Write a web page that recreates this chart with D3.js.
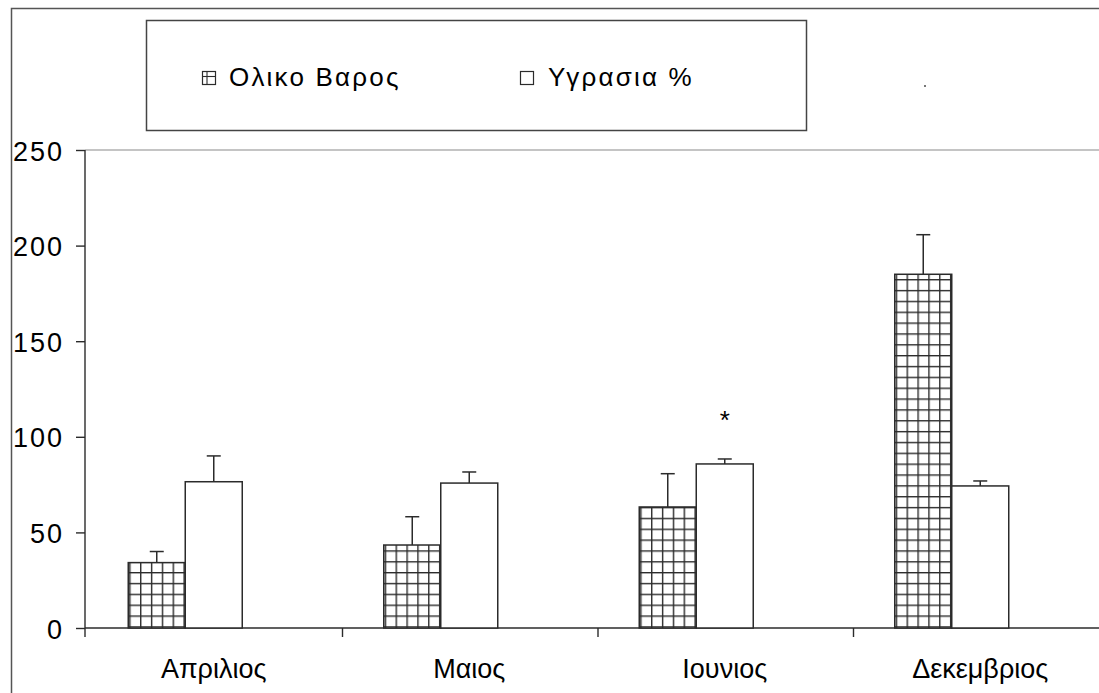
<!DOCTYPE html>
<html>
<head>
<meta charset="utf-8">
<script src="https://cdn.jsdelivr.net/npm/d3@7"></script>
<style>
  html, body { margin: 0; padding: 0; background: #fff; }
  svg { display: block; font-family: "Liberation Sans", Arial, sans-serif; }
</style>
</head>
<body>
<svg id="chart" width="1099" height="693"></svg>
<script>
// Monthly measurements: total weight and moisture %
const months = ["Απριλιος", "Μαιος", "Ιουνιος", "Δεκεμβριος"];
const seriesNames = ["Ολικο Βαρος", "Υγρασια %"];
const totalWeight = [34.2, 43.4, 63.3, 185.0];
const totalWeightErr = [5.8, 14.8, 17.4, 20.7];
const moisture = [76.5, 75.8, 85.8, 74.3];
const moistureErr = [13.5, 5.8, 2.6, 2.6];
const yTicks = [0, 50, 100, 150, 200, 250];
// significance marks: month index and series index
const significance = [{ month: 2, series: 1, mark: "*" }];

const svg = d3.select("#chart");
const ink = "#2b2b2b";

// frame around the whole chart
svg.append("path")
  .attr("d", "M11.5,694 L11.5,8.5 L1100,8.5")
  .attr("fill", "none").attr("stroke", "#555").attr("stroke-width", 1.5);

// grid hatch for the total-weight bars
const defs = svg.append("defs");
const pat = defs.append("pattern")
  .attr("id", "grid")
  .attr("patternUnits", "userSpaceOnUse")
  .attr("x", 130).attr("y", 572)
  .attr("width", 10.85).attr("height", 10.85);
pat.append("rect").attr("width", 10.85).attr("height", 10.85).attr("fill", "#fff");
pat.append("line").attr("x1", 0.7).attr("x2", 0.7).attr("y1", 0).attr("y2", 10.85)
  .attr("stroke", ink).attr("stroke-width", 1.4);
pat.append("line").attr("x1", 0).attr("x2", 10.85).attr("y1", 0.7).attr("y2", 0.7)
  .attr("stroke", ink).attr("stroke-width", 1.4);

// scales
const plotLeft = 85, plotTop = 150, plotBottom = 628;
const x0 = d3.scaleBand().domain(months).range([plotLeft + 1, plotLeft + 1 + 4 * 255.5]).padding(0);
const half = x0.step() / 2;
const x1 = d3.scaleBand().domain(seriesNames).range([half - 85.5, half + 28.5]).padding(0);
const y = d3.scaleLinear().domain([0, 250]).range([plotBottom, plotTop]);

// top border of the plot area
svg.append("line")
  .attr("x1", plotLeft).attr("x2", 1099)
  .attr("y1", y(250)).attr("y2", y(250))
  .attr("stroke", "#8a8a8a").attr("stroke-width", 1.2);

// y axis
const yAxis = svg.append("g").attr("transform", `translate(${plotLeft},0)`)
  .call(d3.axisLeft(y).tickValues(yTicks).tickSize(9).tickPadding(0).tickFormat(d3.format("d")));
yAxis.select(".domain").remove();
yAxis.selectAll(".tick line").attr("stroke", ink).attr("stroke-width", 1.4);
yAxis.selectAll(".tick text")
  .attr("x", -21).attr("dy", "0.37em")
  .attr("fill", "#000")
  .style("font-size", "27px")
  .style("letter-spacing", "2px")
  .style("font-family", "'Liberation Sans', Arial, sans-serif");
svg.append("line")
  .attr("x1", plotLeft).attr("x2", plotLeft)
  .attr("y1", plotTop).attr("y2", plotBottom + 9)
  .attr("stroke", ink).attr("stroke-width", 1.4);

// x axis: ticks at category boundaries, labels at centres
svg.append("line")
  .attr("x1", plotLeft).attr("x2", 1099)
  .attr("y1", plotBottom).attr("y2", plotBottom)
  .attr("stroke", ink).attr("stroke-width", 1.4);
svg.append("g").selectAll("line")
  .data(months.slice(1))
  .join("line")
  .attr("x1", d => x0(d) + 1).attr("x2", d => x0(d) + 1)
  .attr("y1", plotBottom).attr("y2", plotBottom + 9)
  .attr("stroke", ink).attr("stroke-width", 1.4);
svg.append("g").selectAll("text")
  .data(months)
  .join("text")
  .attr("x", d => x0(d) + half)
  .attr("y", 678)
  .attr("text-anchor", "middle")
  .attr("fill", "#000")
  .style("font-size", "27px")
  .text(d => d);

// bars
const rows = months.map((m, i) => ({
  month: m,
  values: [
    { key: seriesNames[0], v: totalWeight[i], e: totalWeightErr[i], fill: "url(#grid)" },
    { key: seriesNames[1], v: moisture[i], e: moistureErr[i], fill: "#fff" }
  ]
}));

const groups = svg.append("g").selectAll("g")
  .data(rows)
  .join("g")
  .attr("transform", d => `translate(${x0(d.month)},0)`);

groups.selectAll("rect")
  .data(d => d.values)
  .join("rect")
  .attr("x", d => x1(d.key))
  .attr("y", d => y(d.v))
  .attr("width", x1.bandwidth())
  .attr("height", d => y(0) - y(d.v))
  .attr("fill", d => d.fill)
  .attr("stroke", ink)
  .attr("stroke-width", 1.5);

// upper error bars
const err = groups.selectAll("g.err")
  .data(d => d.values)
  .join("g").attr("class", "err");
err.append("line")
  .attr("x1", d => x1(d.key) + x1.bandwidth() / 2)
  .attr("x2", d => x1(d.key) + x1.bandwidth() / 2)
  .attr("y1", d => y(d.v))
  .attr("y2", d => y(d.v + d.e))
  .attr("stroke", ink).attr("stroke-width", 1.5);
err.append("line")
  .attr("x1", d => x1(d.key) + x1.bandwidth() / 2 - 7)
  .attr("x2", d => x1(d.key) + x1.bandwidth() / 2 + 7)
  .attr("y1", d => y(d.v + d.e))
  .attr("y2", d => y(d.v + d.e))
  .attr("stroke", ink).attr("stroke-width", 1.5);

// significance marks above the error bars
svg.append("g").selectAll("text")
  .data(significance)
  .join("text")
  .attr("x", d => x0(months[d.month]) + x1(seriesNames[d.series]) + x1.bandwidth() / 2)
  .attr("y", d => {
    const v = d.series === 0 ? totalWeight[d.month] + totalWeightErr[d.month]
                             : moisture[d.month] + moistureErr[d.month];
    return y(v) - 30;
  })
  .attr("text-anchor", "middle")
  .attr("fill", "#000")
  .style("font-size", "26px")
  .text(d => d.mark);

// legend
const legend = svg.append("g");
legend.append("rect")
  .attr("x", 146.5).attr("y", 20.5).attr("width", 660).attr("height", 110)
  .attr("fill", "#fff").attr("stroke", "#444").attr("stroke-width", 1.5);

const legendItems = [
  { name: seriesNames[0], sx: 202, tx: 229 },
  { name: seriesNames[1], sx: 520, tx: 548 }
];
legendItems.forEach((it, i) => {
  legend.append("rect")
    .attr("x", it.sx + 0.5).attr("y", 71.5).attr("width", 13).attr("height", 13)
    .attr("fill", "#fff").attr("stroke", ink).attr("stroke-width", 1.2);
  if (i === 0) {
    legend.append("line").attr("x1", it.sx + 5).attr("x2", it.sx + 5)
      .attr("y1", 72).attr("y2", 84.5).attr("stroke", ink).attr("stroke-width", 1.1);
    legend.append("line").attr("x1", it.sx + 1).attr("x2", it.sx + 13)
      .attr("y1", 76.5).attr("y2", 76.5).attr("stroke", ink).attr("stroke-width", 1.1);
  }
  legend.append("text")
    .attr("x", it.tx).attr("y", 86)
    .attr("fill", "#000")
    .style("font-size", "26px")
    .style("letter-spacing", "2.2px")
    .text(it.name);
});

// stray point marker near the top right
svg.append("rect").attr("x", 924).attr("y", 85).attr("width", 2).attr("height", 2).attr("fill", "#777");
</script>
</body>
</html>
